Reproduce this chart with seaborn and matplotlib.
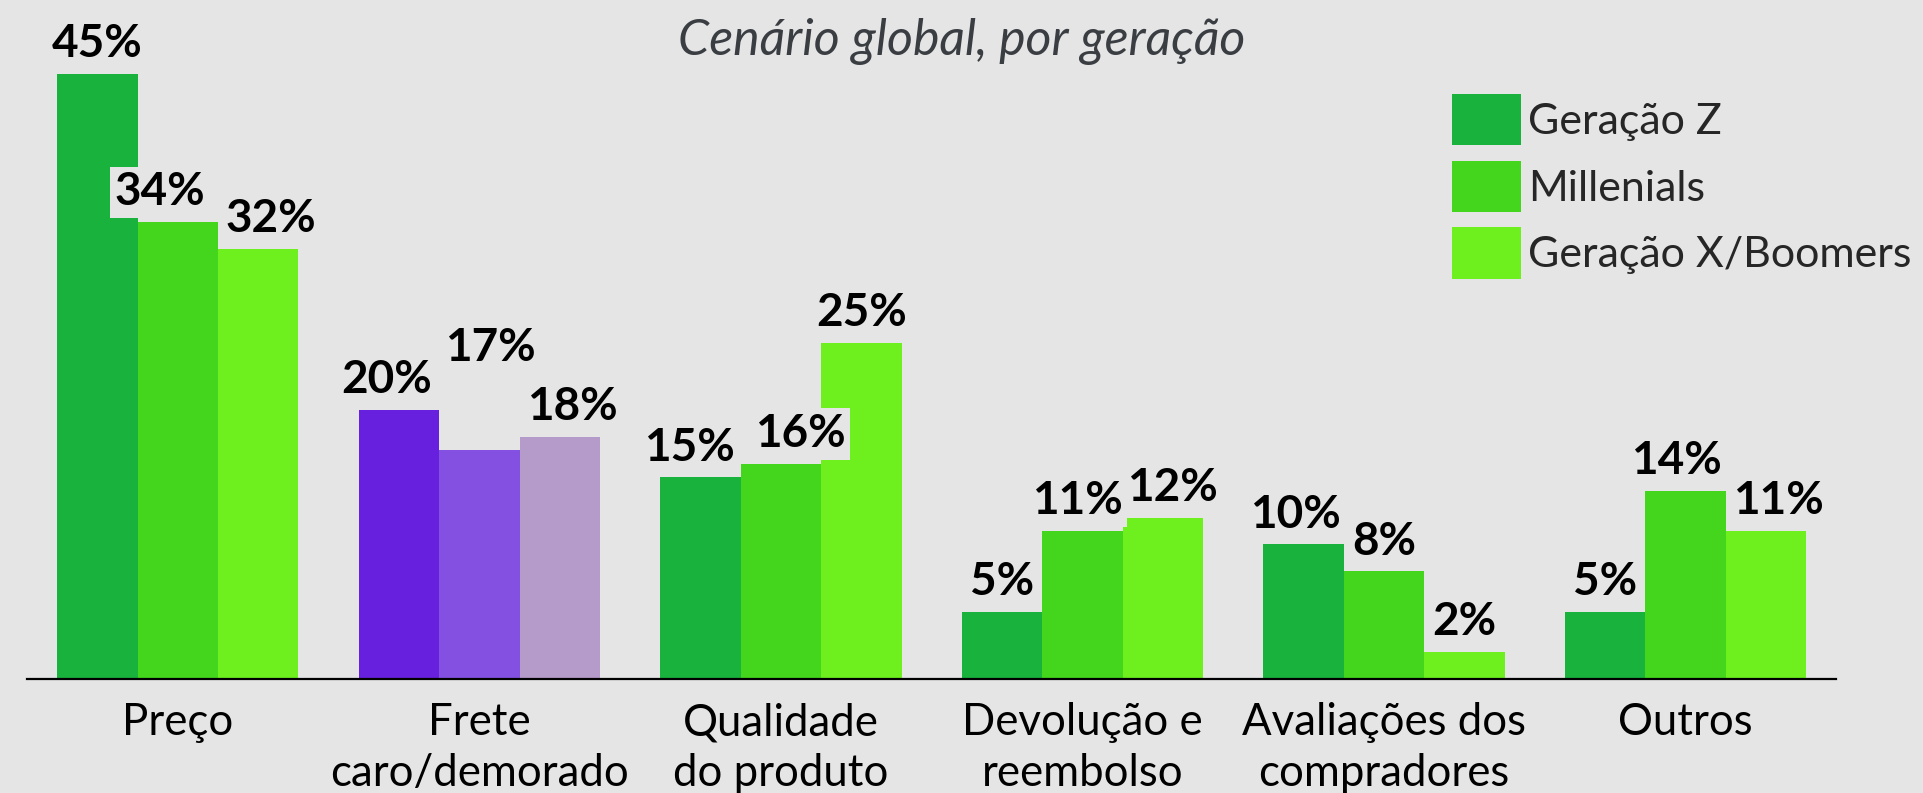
import matplotlib
matplotlib.use("Agg")
import matplotlib.pyplot as plt
import seaborn as sns
import pandas as pd
from matplotlib.patches import Patch

# dados
categorias = ['Preço', 'Frete\ncaro/demorado', 'Qualidade\ndo produto',
              'Devolução e\nreembolso', 'Avaliações dos\ncompradores', 'Outros']
geracoes = ['Geração Z', 'Millenials', 'Geração X/Boomers']
geracao_z = [45, 20, 15, 5, 10, 5]
millenials = [34, 17, 16, 11, 8, 14]
geracao_x = [32, 18, 25, 12, 2, 11]

cores = ['#18b23c', '#44d61c', '#6ef01f']
cores_frete = ['#6720dd', '#8450e2', '#b59bca']
BG = '#e5e5e5'

# deslocamento manual dos rotulos (pontos), como no original
ajuste_rotulos = {
    (1, 0): (-13, 0), (2, 0): (9, 0),
    (0, 1): (-9, 0), (1, 1): (8, 52), (2, 1): (9, 0),
    (0, 2): (-8, 0), (1, 2): (14, 0),
    (1, 3): (-4, 0), (2, 3): (7, 0),
    (0, 4): (-6, 0),
    (1, 5): (-7, 0), (2, 5): (9, 0),
}

sns.set_theme(style='white')
plt.rcParams['font.family'] = ['Lato', 'DejaVu Sans']

df = pd.DataFrame({
    'categoria': categorias * 3,
    'geracao': [g for g in geracoes for _ in categorias],
    'valor': geracao_z + millenials + geracao_x,
})

fig = plt.figure(figsize=(19.23, 7.93), dpi=100, facecolor=BG)
ax = fig.add_axes([0.014, 0.144, 0.941, 0.856])
ax.set_facecolor(BG)

sns.barplot(data=df, x='categoria', y='valor', hue='geracao', order=categorias,
            hue_order=geracoes, palette=cores, saturation=1, width=0.8,
            errorbar=None, legend=False, ax=ax)

for i, cont in enumerate(ax.containers):
    cont.patches[1].set_facecolor(cores_frete[i])
    for j, bar in enumerate(cont.patches):
        bar.set_edgecolor('none')
        h = bar.get_height()
        dx, dy = ajuste_rotulos.get((i, j), (0, 0))
        ax.annotate(f'{h:.0f}%', (bar.get_x() + bar.get_width() / 2, h),
                    xytext=(dx, 12 + dy), textcoords='offset points',
                    ha='center', va='baseline', fontsize=33, fontweight='bold',
                    color='black', zorder=5,
                    bbox=dict(boxstyle='square,pad=0.1', facecolor=BG,
                              edgecolor='none'))

ax.set_xlim(-0.5, 5.5)
ax.set_ylim(0, 50.5)
ax.set_xlabel('')
ax.set_ylabel('')
ax.set_yticks([])
ax.tick_params(axis='x', length=0, pad=17, labelsize=31.5, colors='black')
for lbl in ax.get_xticklabels():
    lbl.set_linespacing(1.28)
sns.despine(ax=ax, left=True)
ax.spines['bottom'].set_color('black')
ax.spines['bottom'].set_linewidth(1.6)

ax.text(0.5, 0.948, 'Cenário global, por geração', transform=fig.transFigure,
        ha='center', va='center', fontsize=36, style='italic', color='#3a3e42')

handles = [Patch(facecolor=c, edgecolor='none') for c in cores]
ax.legend(handles, geracoes, loc='upper left', bbox_to_anchor=(0.746, 0.903),
          bbox_transform=fig.transFigure, frameon=False, fontsize=31,
          handlelength=1.6, handleheight=1.45, handletextpad=0.18,
          labelspacing=0.36, borderaxespad=0)

fig.savefig('out.png', dpi=100, facecolor=BG)
